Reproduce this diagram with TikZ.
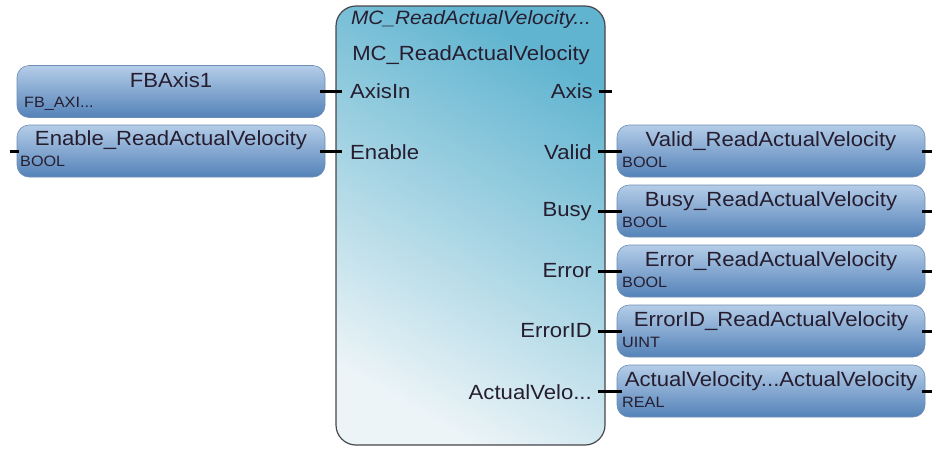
\documentclass[tikz,border=0pt]{standalone}
\usepackage{fontspec}
\setmainfont[FakeStretch=1.08]{Liberation Sans}
\definecolor{blkTop}{RGB}{96,180,208}
\definecolor{blkBot}{RGB}{236,244,247}
\definecolor{blkEdge}{RGB}{70,70,75}
\definecolor{varTop}{RGB}{180,205,232}
\definecolor{varBot}{RGB}{84,130,184}
\definecolor{varEdge}{RGB}{110,140,180}
\definecolor{txt}{RGB}{38,30,48}
\newcommand\tdots{...}
\begin{document}
\begin{tikzpicture}[x=1pt,y=-1pt,
  blk/.style={draw=blkEdge, line width=1.2pt, rounded corners=20pt, top color=blkTop, bottom color=blkBot, shading angle=-30, minimum width=269pt, minimum height=439pt, inner sep=0pt},
  varbox/.style={draw=varEdge, line width=0.6pt, rounded corners=12pt, top color=varTop, bottom color=varBot, minimum width=308pt, minimum height=52pt, inner sep=0pt},
  nametxt/.style={text=txt, font=\fontsize{20.5}{21}\selectfont, inner sep=0pt, anchor=center},
  typetxt/.style={text=txt, font=\fontsize{15}{16}\selectfont, inner sep=0pt, anchor=west},
  pinlbl/.style={text=txt, font=\fontsize{20.5}{21}\selectfont, inner sep=0pt},
  pinline/.style={line width=3pt, draw=black}]
\useasboundingbox (0,0) rectangle (939,448);

% main function block
\node[blk] (fb) at (470.5,225.5) {};
\node[nametxt, font=\fontsize{19.3}{20}\selectfont\itshape] (title) at (471,20) {MC\_ReadActualVelocity\tdots};
\node[nametxt] (ftype) at (471,55) {MC\_ReadActualVelocity};

% pin labels
\node[pinlbl, anchor=west] (pAxisIn) at (350,91) {AxisIn};
\node[pinlbl, anchor=west] (pEnable) at (350,152) {Enable};
\node[pinlbl, anchor=east] (pAxis) at (593,91) {Axis};
\node[pinlbl, anchor=east] (pValid) at (592,152) {Valid};
\node[pinlbl, anchor=east] (pBusy) at (592,212) {Busy};
\node[pinlbl, anchor=east] (pError) at (592,271) {Error};
\node[pinlbl, anchor=east] (pErrorID) at (592,331) {ErrorID};
\node[pinlbl, anchor=east] (pActual) at (592,392) {ActualVelo\tdots};

% input variables
\node[varbox] (vAxis) at (171,91.5) {};
\node[nametxt] at (171,80) {FBAxis1};
\node[typetxt] at (24,104) {FB\_AXI\tdots};
\node[varbox] (vEnable) at (171,151) {};
\node[nametxt] at (171,140) {Enable\_ReadActualVelocity};
\node[typetxt] at (20,161) {BOOL};

% output variables
\foreach \nm/\yy/\lab/\typ in {vValid/151/Valid\_ReadActualVelocity/BOOL,
  vBusy/211/Busy\_ReadActualVelocity/BOOL,
  vError/271/Error\_ReadActualVelocity/BOOL,
  vErrorID/331/ErrorID\_ReadActualVelocity/UINT,
  vActual/391/ActualVelocity\tdots ActualVelocity/REAL}{
  \node[varbox] (\nm) at (771,\yy) {};
  \node[nametxt] at (771,\yy-10) {\lab};
  \node[typetxt] at (622,\yy+11) {\typ};
}

% pins / connectors
\coordinate (cAxisIn) at (fb.west |- vAxis.east);
\coordinate (cEnable) at (fb.west |- vEnable.east);
\draw[pinline] ([xshift=-5pt]vAxis.east) -- ([xshift=7pt]cAxisIn);
\draw[pinline] ([xshift=-5pt]vEnable.east) -- ([xshift=7pt]cEnable);
\coordinate (eIn) at ([xshift=-7pt]vEnable.west);
\draw[pinline] (eIn) -- ([xshift=2pt]vEnable.west);
\coordinate (cAxis) at (fb.east |- pAxis.east);
\coordinate (oAxis) at ([xshift=6pt]cAxis);
\draw[pinline] ([xshift=-7pt]cAxis) -- (oAxis);
\foreach \nm in {vValid,vBusy,vError,vErrorID,vActual}{
  \draw[pinline] ([xshift=-8pt]fb.east |- \nm.west) -- ([xshift=5pt]\nm.west);
  \draw[pinline] ([xshift=-3pt]\nm.east) -- ([xshift=7pt]\nm.east);
}
\end{tikzpicture}
\end{document}
